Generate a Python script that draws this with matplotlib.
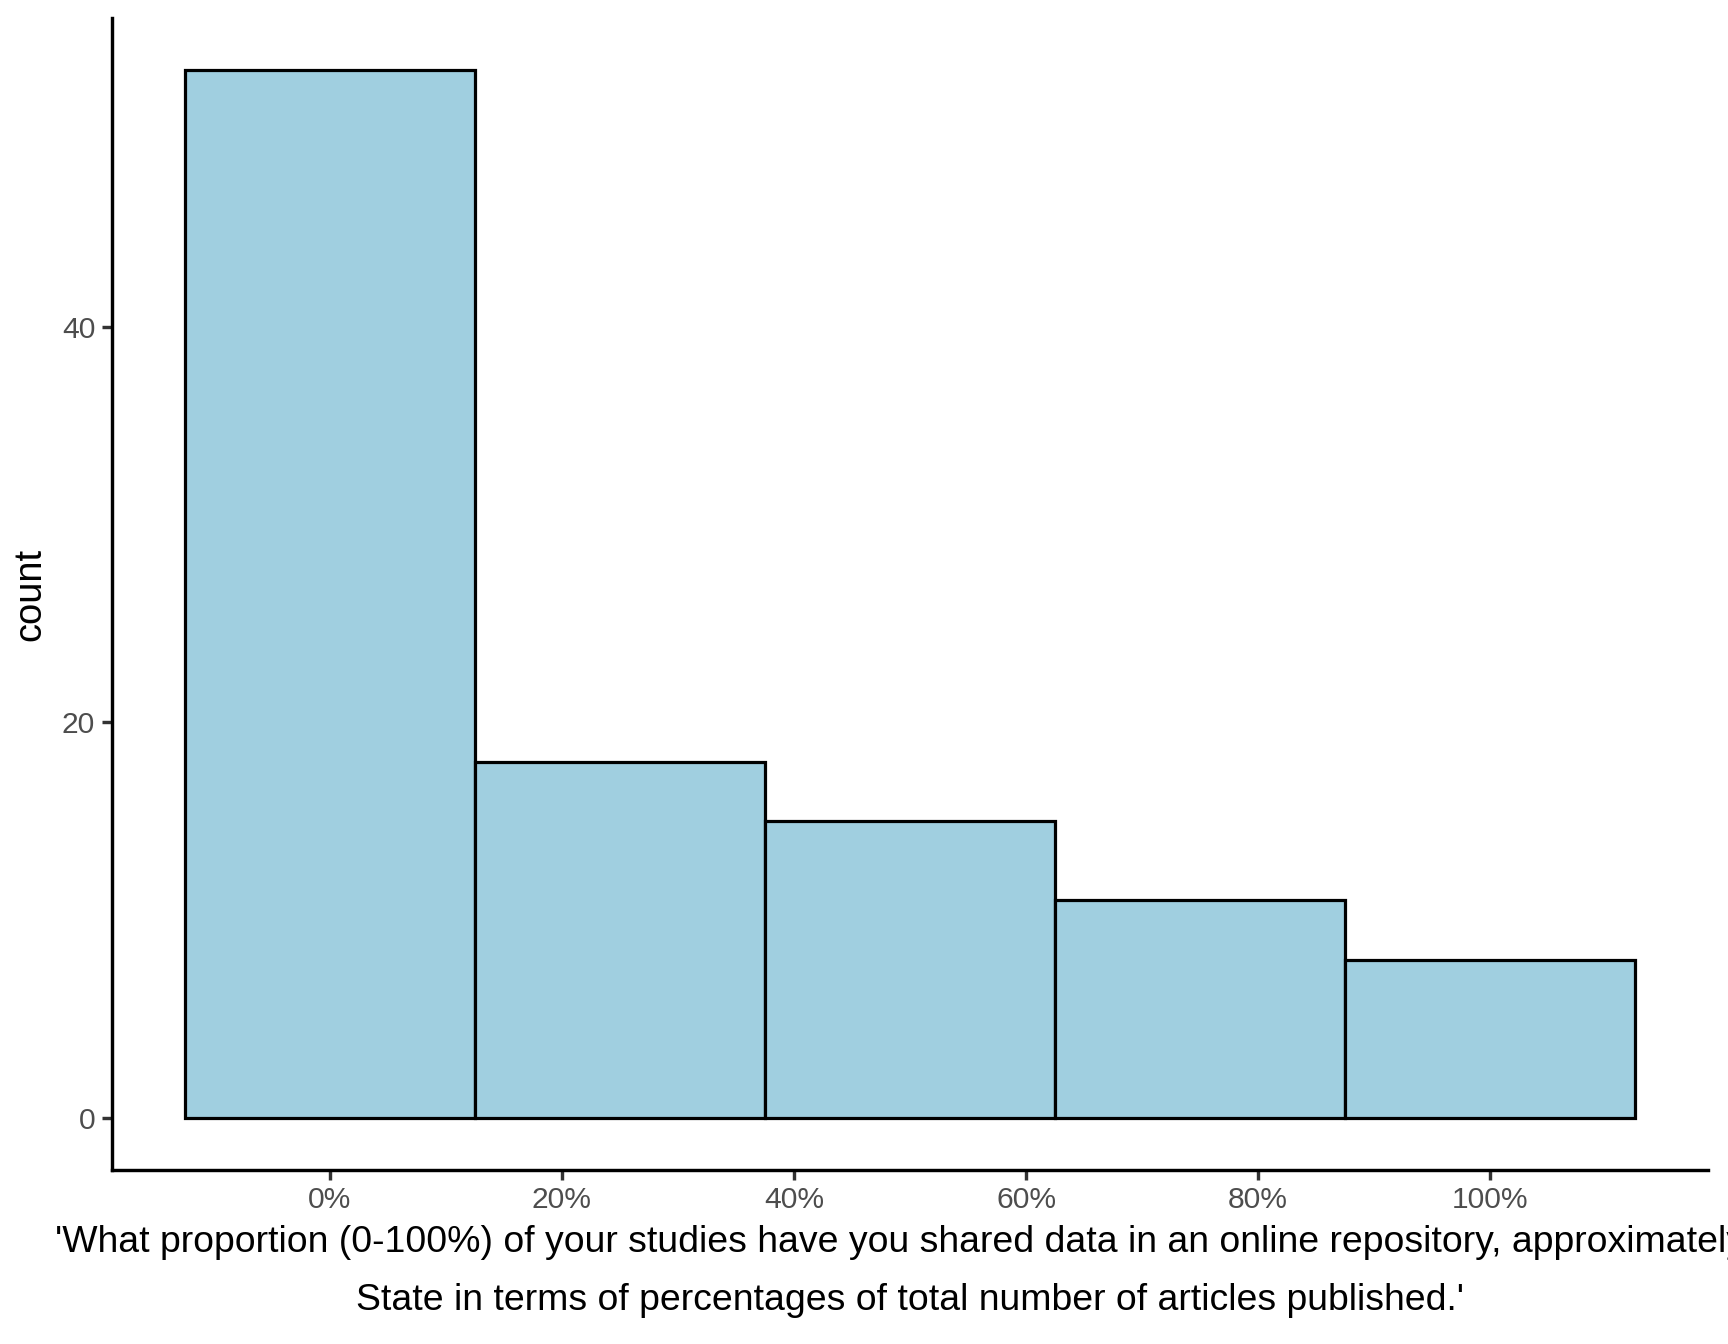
import matplotlib
matplotlib.use("Agg")
import matplotlib.pyplot as plt
import numpy as np

plt.rcParams['font.family'] = ['Liberation Sans', 'DejaVu Sans']

bin_centers = [0, 25, 50, 75, 100]
counts = [53, 18, 15, 11, 8]
bin_width = 25
x_ticks = [0, 20, 40, 60, 80, 100]
x_ticklabels = ["0%", "20%", "40%", "60%", "80%", "100%"]
y_ticks = [0, 20, 40]
xlabel_lines = ["'What proportion (0-100%) of your studies have you shared data in an online repository, approximately?",
                "State in terms of percentages of total number of articles published.'"]
ylabel = "count"

W, H = 1728, 1344
fig = plt.figure(figsize=(W/288, H/288), dpi=288)
L, R, T, B = 112, 1708, 18, 1170
ax = fig.add_axes([L/W, 1 - B/H, (R - L)/W, (B - T)/H])

ax.bar(bin_centers, counts, width=bin_width, color='#A0CFE0', edgecolor='black', linewidth=0.8, align='center')

lo = bin_centers[0] - bin_width/2
hi = bin_centers[-1] + bin_width/2
pad = 0.05 * (hi - lo)
ax.set_xlim(lo - pad, hi + pad)
ymax = max(counts)
ax.set_ylim(-0.05*ymax, ymax*1.05)

ax.set_xticks(x_ticks)
ax.set_xticklabels(x_ticklabels)
ax.set_yticks(y_ticks)

for s in ['top', 'right']:
    ax.spines[s].set_visible(False)
for s in ['left', 'bottom']:
    ax.spines[s].set_linewidth(0.85)
    ax.spines[s].set_color('black')

ax.tick_params(axis='both', length=2.4, width=0.85, color='#333333', labelcolor='#4D4D4D', labelsize=7.5)
ax.tick_params(axis='x', pad=1.6)
ax.tick_params(axis='y', pad=1.8)

cx = (L + R) / 2 / W
fig.text(cx, 1 - 1252/H, xlabel_lines[0], fontsize=9.35, color='black', ha='center', va='baseline')
fig.text(cx, 1 - 1310/H, xlabel_lines[1], fontsize=9.35, color='black', ha='center', va='baseline')
fig.text(30/W, 1 - ((T + B)/2)/H, ylabel, fontsize=9.5, color='black', rotation=90, ha='center', va='center')

fig.savefig("out.png", dpi=288)
